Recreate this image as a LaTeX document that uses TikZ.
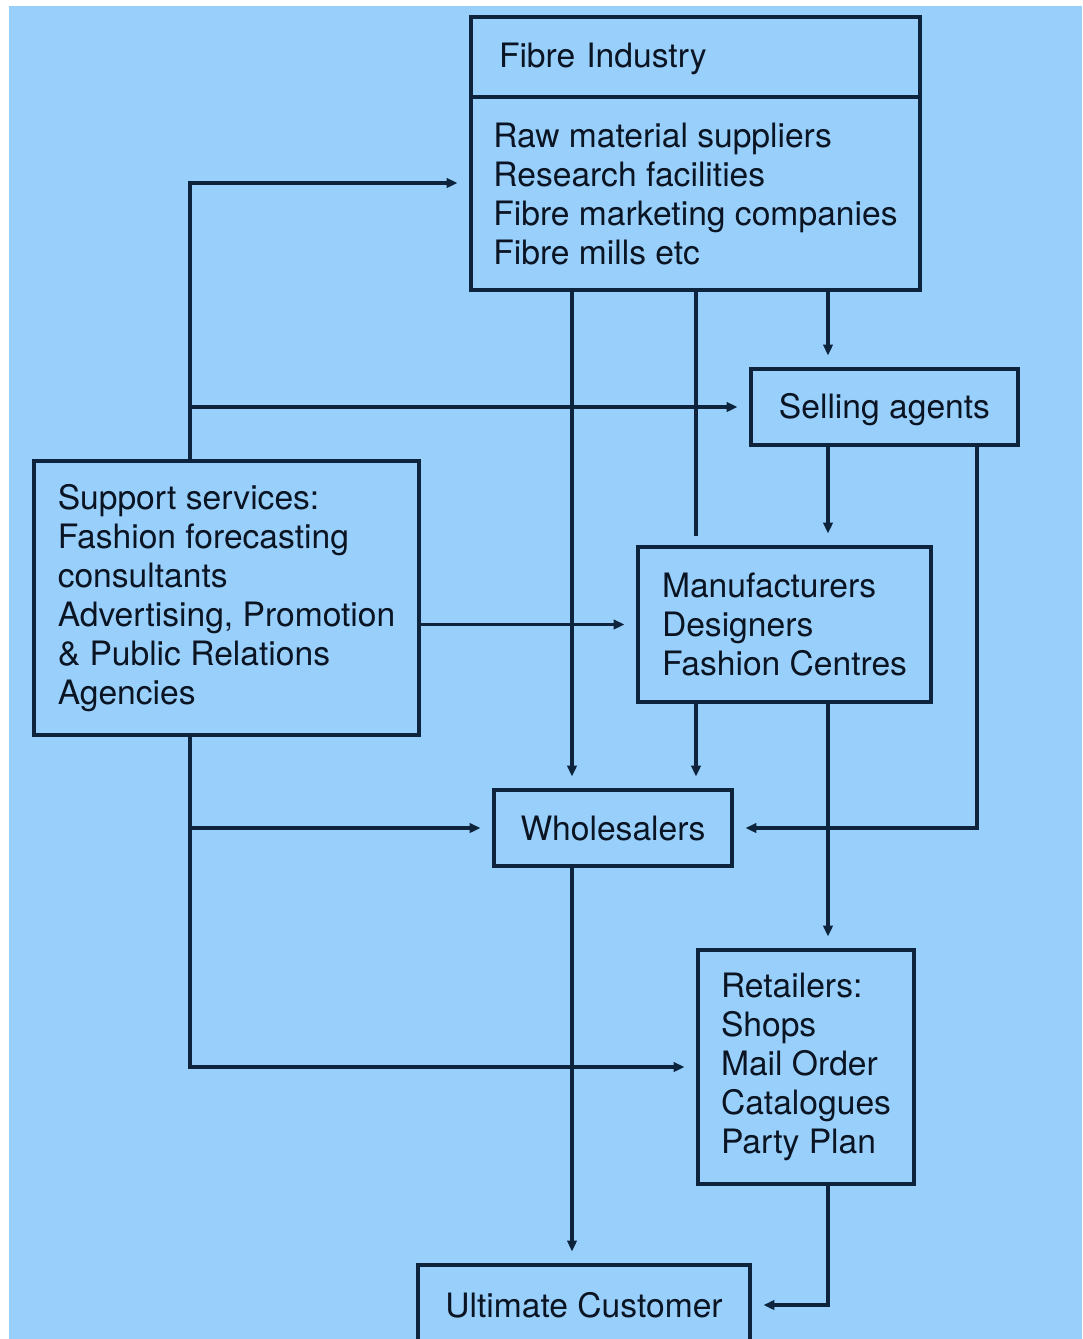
\documentclass[tikz,border=0pt]{standalone}
\usepackage{fontspec}
\setmainfont{TeX Gyre Heros}
\usetikzlibrary{arrows.meta}
\definecolor{chartbg}{RGB}{152,207,251}
\definecolor{ink}{RGB}{14,36,60}
\definecolor{type}{RGB}{10,20,34}
\tikzset{every picture/.style={line width=2.4pt}}
\tikzset{
  box/.style={draw=ink, text=type, rectangle, inner sep=0pt, align=left,
    font=\fontsize{25.2}{29.25}\selectfont},
  flow/.style={draw=ink, -{Triangle[length=8pt,width=7pt]}, shorten >=9pt},
  feed/.style={draw=ink, shorten >=7pt},
}

\begin{document}
\begin{tikzpicture}[x=0.75pt,y=0.75pt,yscale=-1,xscale=1]
\clip (0,0) rectangle (1082,1339);
\fill[white] (0,0) rectangle (1082,1339);
\fill[chartbg] (9,6) rectangle (1082,1339);

% columns and rows of the connectors
\coordinate (trunk) at (190,0);
\coordinate (colW) at (572,0);
\coordinate (colM) at (696,0);
\coordinate (colA) at (828,0);
\coordinate (colR) at (977,0);
\coordinate (rowF) at (0,183);

% Text Node
\draw (695.5,57) node (fibretitle) [box, minimum width=336.75pt, minimum height=60pt, text width=294.75pt, inner xsep=21pt, text depth=2pt] {Fibre Industry};
% Text Node
\draw (695.5,193.5) node (fibrelist) [box, minimum width=336.75pt, minimum height=144.75pt] {Raw material suppliers\\Research facilities\\Fibre marketing companies\\Fibre mills etc};
% Text Node
\draw (884.5,407) node (sell) [box, minimum width=200.25pt, minimum height=57pt, text depth=2pt] {Selling agents};
% Text Node
\draw (226.5,598) node (support) [box, minimum width=288.75pt, minimum height=205.5pt] {Support services:\\Fashion forecasting\\consultants\\Advertising, Promotion\\\& Public Relations\\Agencies};
% Text Node
\draw (784.5,624.5) node (manuf) [box, minimum width=219.75pt, minimum height=116.25pt] {Manufacturers\\Designers\\Fashion Centres};
% Text Node
\draw (613,828) node (whole) [box, minimum width=178.5pt, minimum height=57pt] {Wholesalers};
% Text Node
\draw (806,1067) node (retail) [box, minimum width=162pt, minimum height=175.5pt] {Retailers:\\Shops\\Mail Order\\Catalogues\\Party Plan};
% Text Node
\draw (584,1305) node (uc) [box, minimum width=249pt, minimum height=60pt] {Ultimate Customer};

%Straight Lines
\draw[flow] (support.north -| trunk) |- (fibrelist.west |- rowF);
\draw[flow] (trunk |- sell.west) -- (sell.west);
\draw[flow] (support.east |- manuf.west) -- (manuf.west);
\draw[flow] (support.south -| trunk) |- (retail.west);
\draw[flow] (trunk |- whole.west) -- (whole.west);
%Straight Lines
\draw[flow] (fibrelist.south -| colA) -- (sell.north -| colA);
\draw[flow] (fibrelist.south -| colW) -- (whole.north -| colW);
\draw[feed] (fibrelist.south -| colM) -- (manuf.north -| colM);
%Straight Lines
\draw[flow] (sell.south -| colA) -- (manuf.north -| colA);
\draw[flow] (sell.south -| colR) |- (whole.east);
%Straight Lines
\draw[flow] (manuf.south -| colM) -- (whole.north -| colM);
\draw[flow] (manuf.south -| colA) -- (retail.north -| colA);
%Straight Lines
\draw[flow] (whole.south -| colW) -- (uc.north -| colW);
\draw[flow] (retail.south -| colA) |- (uc.east);
\end{tikzpicture}
\end{document}
